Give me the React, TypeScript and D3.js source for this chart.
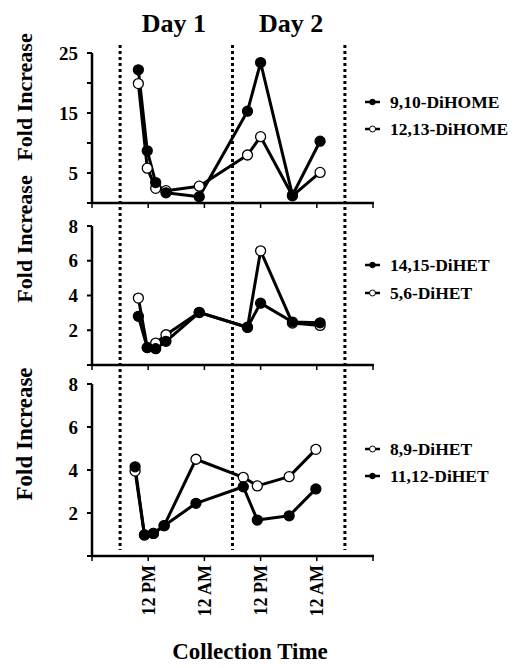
import React from "react";
import * as d3 from "d3";

// ---- data (hours from start of Day 1) ----
const timesTop = [9.9, 11.8, 13.6, 15.8, 22.9, 33.2, 36.0, 42.8, 48.7];
const dihome910 = [22.2, 8.7, 3.4, 1.7, 1.05, 15.3, 23.4, 1.3, 10.3];
const dihome1213 = [19.9, 5.8, 2.45, 2.05, 2.8, 8.0, 11.05, 1.2, 5.1];

const timesMid = [9.9, 11.8, 13.6, 15.8, 22.9, 33.2, 36.0, 42.8, 48.7];
const dihet1415 = [2.8, 1.0, 0.94, 1.36, 3.02, 2.18, 3.56, 2.47, 2.43];
const dihet56 = [3.85, 1.0, 1.26, 1.74, 3.03, 2.16, 6.57, 2.41, 2.28];

const timesBot = [9.2, 11.2, 13.1, 15.4, 22.2, 32.3, 35.3, 42.1, 47.8];
const dihet89 = [3.95, 0.98, 1.05, 1.41, 4.5, 3.66, 3.26, 3.69, 4.96];
const dihet1112 = [4.15, 0.98, 1.05, 1.41, 2.45, 3.22, 1.67, 1.87, 3.12];

const xTickHours = [0, 12, 24, 36, 48, 60];
const xTickLabels = ["", "12 PM", "12 AM", "12 PM", "12 AM", ""];
const dayLines = [6, 30, 54];
const dayLabels = ["Day 1", "Day 2"];
const dayLabelHours = [17.5, 42.5];

const FONT = "Liberation Serif, Times New Roman, Times, DejaVu Serif, serif";
const txt = { fontFamily: FONT, fontWeight: 700 as const };

const x = d3.scaleLinear().domain([0, 60]).range([92, 373]);

type Series = { name: string; values: number[]; filled: boolean };
type Panel = {
  times: number[];
  domain: [number, number];
  range: [number, number];
  ticks: number[];
  labels: number[];
  series: Series[];
  legendY: number[];
  titleY: number;
  titleSize: number;
};

const panels: Panel[] = [
  {
    times: timesTop,
    domain: [0, 25],
    range: [203, 53],
    ticks: [0, 5, 10, 15, 20, 25],
    labels: [5, 15, 25],
    series: [
      { name: "9,10-DiHOME", values: dihome910, filled: true },
      { name: "12,13-DiHOME", values: dihome1213, filled: false },
    ],
    legendY: [102, 129],
    titleY: 97,
    titleSize: 22,
  },
  {
    times: timesMid,
    domain: [0, 8],
    range: [365, 226],
    ticks: [0, 2, 4, 6, 8],
    labels: [2, 4, 6, 8],
    series: [
      { name: "14,15-DiHET", values: dihet1415, filled: true },
      { name: "5,6-DiHET", values: dihet56, filled: false },
    ],
    legendY: [265, 293],
    titleY: 239,
    titleSize: 22,
  },
  {
    times: timesBot,
    domain: [0, 8],
    range: [556, 384],
    ticks: [0, 2, 4, 6, 8],
    labels: [2, 4, 6, 8],
    series: [
      { name: "8,9-DiHET", values: dihet89, filled: false },
      { name: "11,12-DiHET", values: dihet1112, filled: true },
    ],
    legendY: [449, 476],
    titleY: 434,
    titleSize: 23,
  },
];

function PanelView({ p, isBottom }: { p: Panel; isBottom: boolean }) {
  const y = d3.scaleLinear().domain(p.domain).range(p.range);
  const line = d3
    .line<number>()
    .x((_, i) => x(p.times[i]))
    .y((v) => y(v));
  const y0 = y(p.domain[0]);
  const order = [...p.series].sort((a, b) => (a.filled === b.filled ? 0 : a.filled ? 1 : -1));
  return (
    <g>
      <line x1={x(0)} x2={x(0)} y1={y(p.domain[1])} y2={y0} stroke="#000" strokeWidth={2.5} />
      {p.ticks.map((t) => (
        <line key={"t" + t} x1={x(0) - 5} x2={x(0)} y1={y(t)} y2={y(t)} stroke="#000" strokeWidth={2} />
      ))}
      {p.labels.map((t) => (
        <text key={"l" + t} x={x(0) - 14} y={y(t)} dy="0.35em" textAnchor="end" style={{ ...txt, fontSize: 19 }}>
          {t}
        </text>
      ))}
      <line x1={x(0) - 1} x2={x(60) + 1} y1={y0} y2={y0} stroke="#000" strokeWidth={2.5} />
      {xTickHours.map((h) => (
        <line key={"xt" + h} x1={x(h)} x2={x(h)} y1={y0} y2={y0 + 5} stroke="#000" strokeWidth={1.5} />
      ))}
      {isBottom &&
        xTickHours.map((h, i) =>
          xTickLabels[i] ? (
            <text
              key={"xl" + h}
              transform={`translate(${x(h)},${y0 + 9}) rotate(-90)`}
              dy="0.35em"
              textAnchor="end"
              style={{ ...txt, fontSize: 18 }}
            >
              {xTickLabels[i]}
            </text>
          ) : null
        )}
      <text
        transform={`translate(24,${p.titleY}) rotate(-90)`}
        dy="0.35em"
        textAnchor="middle"
        style={{ ...txt, fontSize: p.titleSize }}
      >
        Fold Increase
      </text>
      {order.map((s) => (
        <path
          key={"p" + s.name}
          d={line(s.values) || ""}
          fill="none"
          stroke="#000"
          strokeWidth={3}
          strokeLinejoin="round"
        />
      ))}
      {order.map((s) =>
        s.values.map((v, i) => (
          <circle
            key={s.name + i}
            cx={x(p.times[i])}
            cy={y(v)}
            r={5}
            fill={s.filled ? "#000" : "#fff"}
            stroke="#000"
            strokeWidth={1.3}
          />
        ))
      )}
      {p.series.map((s, i) => (
        <g key={"lg" + s.name}>
          <line x1={365} x2={380} y1={p.legendY[i]} y2={p.legendY[i]} stroke="#000" strokeWidth={2.5} />
          <circle
            cx={372.5}
            cy={p.legendY[i]}
            r={s.filled ? 2.8 : 3}
            fill={s.filled ? "#000" : "#fff"}
            stroke="#000"
            strokeWidth={1}
          />
          <text x={390} y={p.legendY[i]} dy="0.35em" style={{ ...txt, fontSize: 17.5 }}>
            {s.name}
          </text>
        </g>
      ))}
    </g>
  );
}

export default function App() {
  return (
    <svg width={519} height={668} style={{ position: "absolute", left: 0, top: 0, background: "#fff" }}>
      <rect x={0} y={0} width={519} height={668} fill="#fff" />
      {dayLines.map((h) => (
        <line
          key={"d" + h}
          x1={x(h)}
          x2={x(h)}
          y1={45}
          y2={550}
          stroke="#000"
          strokeWidth={3}
          strokeDasharray="3,3"
        />
      ))}
      {dayLabels.map((d, i) => (
        <text key={d} x={x(dayLabelHours[i])} y={32} textAnchor="middle" style={{ ...txt, fontSize: 26 }}>
          {d}
        </text>
      ))}
      {panels.map((p, i) => (
        <PanelView key={i} p={p} isBottom={i === panels.length - 1} />
      ))}
      <text x={250} y={659} textAnchor="middle" style={{ ...txt, fontSize: 23 }}>
        Collection Time
      </text>
    </svg>
  );
}
